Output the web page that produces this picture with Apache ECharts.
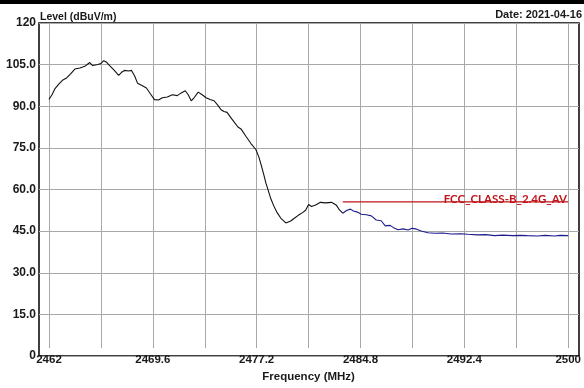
<!DOCTYPE html>
<html>
<head>
<meta charset="utf-8">
<script src="https://cdn.jsdelivr.net/npm/echarts@6/dist/echarts.min.js"></script>
<style>html,body{margin:0;padding:0;background:#fff;}#c{width:584px;height:388px;}</style>
</head>
<body>
<div id="c"></div>
<script>
// ---- data ----
var xStart = 2462, xEnd = 2500, xStep = 3.8;
var yTicks = [0, 15, 30, 45, 60, 75, 90, 105, 120];
var scan1Freq = [2462.00,2462.22,2462.44,2462.73,2463.02,2463.31,2463.60,2463.89,2464.26,2464.62,2464.98,2465.20,2465.57,2465.79,2466.00,2466.22,2466.44,2466.73,2467.10,2467.31,2467.53,2467.82,2468.04,2468.26,2468.48,2468.77,2469.13,2469.43,2469.72,2470.01,2470.30,2470.66,2471.03,2471.39,2471.68,2471.97,2472.19,2472.41,2472.63,2472.92,2473.21,2473.50,2473.79,2474.08,2474.38,2474.59,2474.81,2475.03,2475.39,2475.83,2476.05,2476.41,2476.78,2477.14,2477.36,2477.51,2477.72,2477.87,2478.09,2478.23,2478.45,2478.67,2478.96,2479.33,2479.69,2479.98,2480.27,2480.56,2480.78,2481.00,2481.22,2481.51,2481.87,2482.24,2482.67,2482.89,2483.04,2483.26,2483.50];
var scan1Level = [91.8,93.5,95.8,97.5,99.0,99.8,101.3,103.0,103.4,104.0,105.4,104.3,104.7,105.0,106.1,105.5,104.3,102.8,100.7,101.8,102.5,102.3,102.5,100.5,97.8,97.0,96.0,93.8,91.7,91.6,92.4,92.7,93.5,93.2,94.2,95.0,93.5,91.3,92.5,94.5,93.5,92.4,91.8,91.3,89.5,88.0,87.3,87.0,84.5,81.6,80.9,78.2,75.5,73.3,70.5,67.9,64.0,61.0,57.5,55.2,52.5,50.2,48.0,46.2,46.9,48.0,49.1,50.0,50.9,53.0,52.3,52.8,53.8,53.6,53.8,53.2,52.7,51.0,49.8];
var scan2Freq = [2483.50,2483.77,2484.06,2484.28,2484.57,2484.86,2485.22,2485.59,2485.95,2486.31,2486.61,2486.97,2487.26,2487.55,2487.92,2488.28,2488.57,2488.86,2489.23,2489.74,2490.24,2490.83,2491.41,2492.14,2492.65,2493.37,2493.96,2494.61,2495.20,2495.92,2496.51,2497.01,2497.74,2498.33,2498.98,2499.42,2500.00];
var scan2Level = [49.8,50.8,51.3,50.6,50.2,49.4,49.2,48.8,47.3,47.0,45.1,45.3,44.3,43.7,44.0,43.6,44.2,44.0,43.2,42.6,42.4,42.5,42.1,42.2,42.0,41.8,41.9,41.5,41.7,41.5,41.6,41.5,41.4,41.6,41.4,41.6,41.5];
var limitFreq = [2483.5, 2500];
var limitLevel = [54, 54];
var limitName = 'FCC_CLASS-B_2.4G_AV';

// ---- build ----
function pairs(fs, ls) { return fs.map(function (f, i) { return [f - xStart, ls[i]]; }); }
var chart = echarts.init(document.getElementById('c'), null, { renderer: 'canvas' });
var bold = { fontFamily: 'Liberation Sans, Arial, sans-serif', fontWeight: 'bold', color: '#1a1a1a' };
var option = {
  animation: false,
  backgroundColor: '#fff',
  grid: [
    { left: 39, right: 5, top: 23, bottom: 32, show: true, borderColor: '#000', borderWidth: 1.5, backgroundColor: 'transparent' },
    { left: 49, right: 13, top: 23, bottom: 33 }
  ],
  title: [
    { text: 'Level (dBuV/m)', left: 40, top: 12, padding: 0, textStyle: Object.assign({}, bold, { fontSize: 10.5 }) },
    { text: 'Date: 2021-04-16', right: 2, top: 9, padding: 0, textStyle: Object.assign({}, bold, { fontSize: 11 }) },
    { text: limitName, right: 17, top: 193, padding: 0, textStyle: { fontFamily: 'Lato, sans-serif', fontWeight: 'bold', fontSize: 11.5, color: '#c0141a' } }
  ],
  xAxis: [
    { gridIndex: 0, type: 'value', min: 0, max: 1, show: false },
    { gridIndex: 1, type: 'value', min: 0, max: xEnd - xStart, interval: xStep,
      axisLine: { show: false }, axisTick: { show: false },
      splitLine: { show: true, lineStyle: { color: '#a8a8a8', width: 1 } },
      axisLabel: Object.assign({}, bold, { fontSize: 11.5, margin: 6, showMinLabel: true, showMaxLabel: true,
        formatter: function (v) {
          var k = Math.round(v / xStep);
          if (k % 2 !== 0) return '';
          return String(Math.round((xStart + v) * 10) / 10);
        } }),
      name: 'Frequency (MHz)', nameLocation: 'middle', nameGap: 18,
      nameTextStyle: Object.assign({}, bold, { fontSize: 11.5 }) }
  ],
  yAxis: [
    { gridIndex: 0, type: 'value', min: yTicks[0], max: yTicks[yTicks.length - 1], interval: yTicks[1] - yTicks[0],
      axisLine: { show: false }, axisTick: { show: false },
      splitLine: { show: true, lineStyle: { color: '#a8a8a8', width: 1 } },
      axisLabel: Object.assign({}, bold, { fontSize: 12, margin: 3,
        formatter: function (v) { return (v === 0 || v === 120) ? String(v) : v.toFixed(1); } }) },
    { gridIndex: 1, type: 'value', min: yTicks[0], max: yTicks[yTicks.length - 1], show: false, splitLine: { show: false } }
  ],
  series: [
    { type: 'line', xAxisIndex: 1, yAxisIndex: 1, data: pairs(limitFreq, limitLevel), showSymbol: false,
      lineStyle: { color: '#c0141a', width: 1.2 }, silent: true },
    { type: 'line', xAxisIndex: 1, yAxisIndex: 1, data: pairs(scan1Freq, scan1Level), showSymbol: false,
      lineStyle: { color: '#111', width: 1.1 }, silent: true },
    { type: 'line', xAxisIndex: 1, yAxisIndex: 1, data: pairs(scan2Freq, scan2Level), showSymbol: false,
      lineStyle: { color: '#1c1c8c', width: 1.1 }, silent: true }
  ],
  graphic: [
    { type: 'rect', left: 0, top: 0, shape: { width: 584, height: 4 }, style: { fill: '#000' } }
  ]
};
chart.setOption(option);
</script>
</body>
</html>
